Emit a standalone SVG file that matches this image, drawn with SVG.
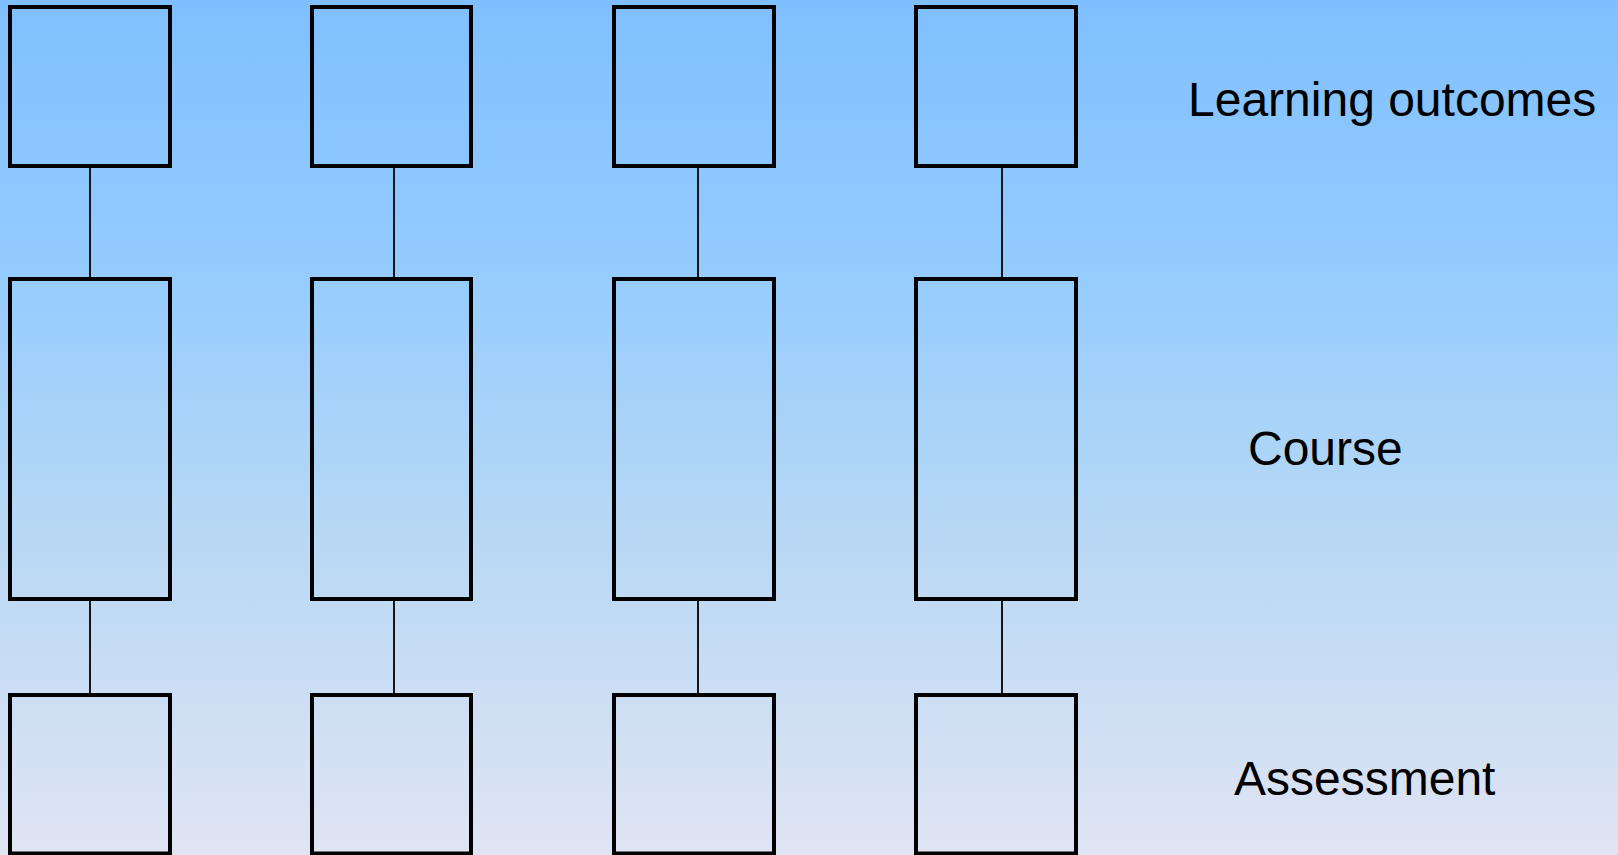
<svg xmlns="http://www.w3.org/2000/svg" width="1618" height="855" viewBox="0 0 1618 855">
  <defs>
    <linearGradient id="bg" x1="0" y1="0" x2="0" y2="1">
      <stop offset="0" stop-color="#80BFFF"/>
      <stop offset="0.3" stop-color="#93CBFF"/>
      <stop offset="0.6" stop-color="#B5D7F5"/>
      <stop offset="1" stop-color="#E0E4F3"/>
    </linearGradient>
    <style>
      .box { fill: none; stroke: #000; stroke-width: 4; }
      .link { stroke: #000; stroke-width: 1.8; fill: none; }
      .label { font-family: "Liberation Sans", Arial, sans-serif; font-size: 48px; fill: #000; }
    </style>
  </defs>

  <rect x="0" y="0" width="1618" height="855" fill="url(#bg)"/>

  <!-- connectors between the three rows -->
  <g id="connectors">
    <line class="link" x1="90" y1="168" x2="90" y2="277"/>
    <line class="link" x1="394" y1="168" x2="394" y2="277"/>
    <line class="link" x1="698" y1="168" x2="698" y2="277"/>
    <line class="link" x1="1002" y1="168" x2="1002" y2="277"/>
    <line class="link" x1="90" y1="601" x2="90" y2="693"/>
    <line class="link" x1="394" y1="601" x2="394" y2="693"/>
    <line class="link" x1="698" y1="601" x2="698" y2="693"/>
    <line class="link" x1="1002" y1="601" x2="1002" y2="693"/>
  </g>

  <!-- learning outcome boxes -->
  <g id="outcome-1"><rect class="box" x="10" y="7" width="160" height="159"/></g>
  <g id="outcome-2"><rect class="box" x="312" y="7" width="159" height="159"/></g>
  <g id="outcome-3"><rect class="box" x="614" y="7" width="160" height="159"/></g>
  <g id="outcome-4"><rect class="box" x="916" y="7" width="160" height="159"/></g>

  <!-- course boxes -->
  <g id="course-1"><rect class="box" x="10" y="279" width="160" height="320"/></g>
  <g id="course-2"><rect class="box" x="312" y="279" width="159" height="320"/></g>
  <g id="course-3"><rect class="box" x="614" y="279" width="160" height="320"/></g>
  <g id="course-4"><rect class="box" x="916" y="279" width="160" height="320"/></g>

  <!-- assessment boxes -->
  <g id="assessment-1"><rect class="box" x="10" y="695" width="160" height="158.5"/></g>
  <g id="assessment-2"><rect class="box" x="312" y="695" width="159" height="158.5"/></g>
  <g id="assessment-3"><rect class="box" x="614" y="695" width="160" height="158.5"/></g>
  <g id="assessment-4"><rect class="box" x="916" y="695" width="160" height="158.5"/></g>

  <!-- row labels -->
  <g id="labels">
    <text class="label" x="1188" y="116">Learning outcomes</text>
    <text class="label" x="1248" y="465">Course</text>
    <text class="label" x="1234" y="795">Assessment</text>
  </g>
</svg>
